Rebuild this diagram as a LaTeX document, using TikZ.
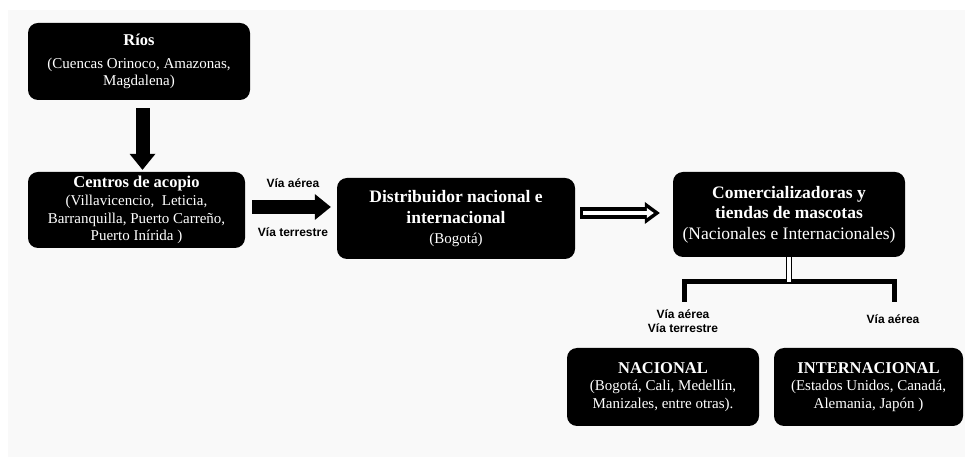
\documentclass[tikz,border=0pt]{standalone}
\usepackage{fontspec}
\setmainfont{Liberation Serif}
\setsansfont{Liberation Sans}
\usetikzlibrary{arrows.meta}
\definecolor{paper}{HTML}{F9F9F9}
\newcommand\cardtitle[2][16.5]{{\bfseries\fontsize{#1}{20}\selectfont #2}}

\begin{document}
\begin{tikzpicture}[x=1pt, y=1pt,
    card/.style={fill=black, text=white, rounded corners=10pt, align=center,
                 inner sep=2pt, font=\fontsize{15}{17.5}\selectfont},
    route/.style={font=\sffamily\bfseries\fontsize{12}{14}\selectfont,
                  align=center, inner sep=0pt},
    blockflow/.style={line width=14pt,
                      -{Triangle[width=26pt, length=16pt, line width=0pt]}},
    hollowflow/.style={line width=12pt,
                       -{Triangle[width=22pt, length=15pt, line width=0pt]}},
    hollowcore/.style={white, line width=4pt,
                       -{Triangle[width=10pt, length=7pt, line width=0pt]}},
    stem/.style={line width=1pt, double=white, double distance=3.5pt},
    branch/.style={line width=5pt},
]
\fill[white] (0,0) rectangle (965,457);
\fill[paper] (8,0) rectangle (965,447);

\node[card, minimum width=222pt, minimum height=77pt] (rios) at (139,395.5)
   {\cardtitle{Ríos}\\[5pt] (Cuencas Orinoco, Amazonas,\\ Magdalena)};
\node[card, minimum width=217pt, minimum height=76pt] (acopio) at (136.5,247)
   {\cardtitle{Centros de acopio}\\[1pt] (Villavicencio,~ Leticia,\\
    Barranquilla, Puerto Carreño,\\ Puerto Inírida )};
\node[card, minimum width=238pt, minimum height=81pt] (dist) at (456,238.5)
   {\cardtitle[17.5]{Distribuidor nacional e}\\[4pt] \cardtitle[17.5]{internacional}\\[2pt]
    (Bogotá)};
\node[card, minimum width=232pt, minimum height=85pt,
      font=\fontsize{17.5}{20}\selectfont] (comer) at (789,242.5)
   {\cardtitle[17.5]{Comercializadoras y}\\ \cardtitle[17.5]{tiendas de mascotas}\\[1pt]
    (Nacionales e Internacionales)};
\node[card, minimum width=192pt, minimum height=78pt] (nac) at (663,70)
   {\cardtitle{NACIONAL}\\ (Bogotá, Cali, Medellín,\\ Manizales, entre otras).};
\node[card, minimum width=189pt, minimum height=78pt] (inter) at (868.5,70)
   {\cardtitle{INTERNACIONAL}\\ (Estados Unidos, Canadá,\\ Alemania, Japón )};

\draw[blockflow, shorten <=8pt, shorten >=2pt]
   ([xshift=3.5pt]rios.south) -- ([xshift=3.5pt]rios.south |- acopio.north);
\draw[blockflow, shorten <=7pt, shorten >=6pt]
   ([yshift=3pt]acopio.east) -- ([yshift=3pt]acopio.east -| dist.west);
\draw[hollowflow, shorten <=5pt, shorten >=13pt]
   ([yshift=1.5pt]comer.west -| dist.east) -- ([yshift=1.5pt]comer.west);
\draw[hollowcore, shorten <=8pt, shorten >=19pt]
   ([yshift=1.5pt]comer.west -| dist.east) -- ([yshift=1.5pt]comer.west);

\node[route] (aereo) at (293,274) {Vía aérea};
\node[route] (terrestre) at (293,225) {Vía terrestre};

\coordinate (split) at (790,175);
\coordinate (legnac) at (684,155);
\coordinate (leginter) at (894,155);
\draw[branch] (legnac) |- (split) -| (leginter);
\draw[stem] (comer.south) -- (comer.south |- split);

\node[route] (rutasnac) at (683,135.5) {Vía aérea\\ Vía terrestre};
\node[route] (rutasinter) at (893,138) {Vía aérea};
\end{tikzpicture}
\end{document}
